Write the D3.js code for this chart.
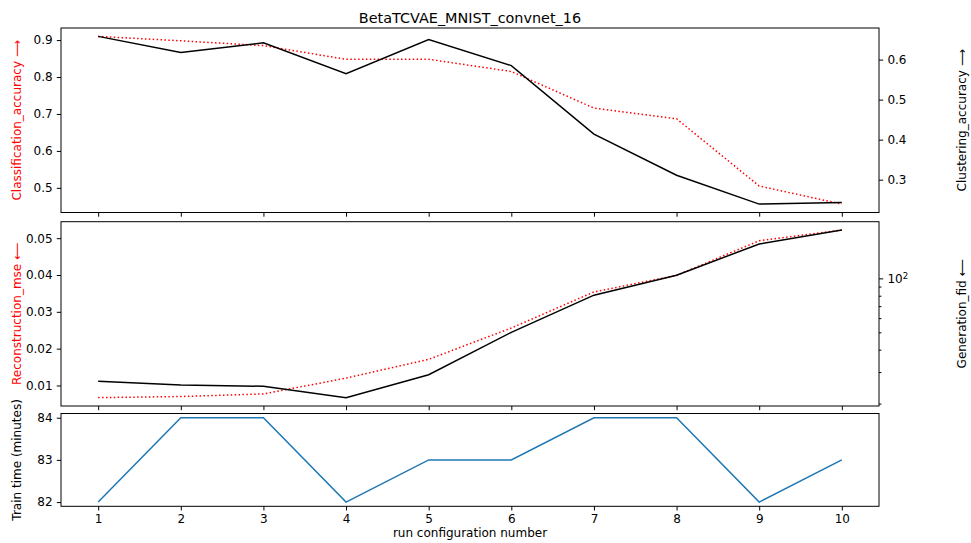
<!DOCTYPE html>
<html>
<head>
<meta charset="utf-8">
<script src="https://cdn.jsdelivr.net/npm/d3@7"></script>
<style>
  html, body { margin: 0; padding: 0; background: #fff; }
  svg { display: block; font-family: "DejaVu Sans", sans-serif; }
  .axis path { display: none; }
  .axis line { stroke: #000; stroke-width: 1; }
  .axis text { font-size: 12px; fill: #000; font-family: "DejaVu Sans", sans-serif; }
</style>
</head>
<body>
<script>
const chartTitle = "BetaTCVAE_MNIST_convnet_16";
const runs = [1, 2, 3, 4, 5, 6, 7, 8, 9, 10];
const classificationAccuracy = [0.910, 0.898, 0.885, 0.848, 0.848, 0.815, 0.716, 0.687, 0.505, 0.456];
const clusteringAccuracy = [0.658, 0.618, 0.642, 0.565, 0.650, 0.585, 0.414, 0.311, 0.239, 0.243];
const reconstructionMse = [0.0067, 0.0070, 0.0077, 0.0120, 0.0171, 0.0256, 0.0354, 0.0399, 0.0493, 0.0522];
const generationFid = [26.7, 25.4, 25.0, 21.6, 29.0, 50.0, 80.6, 104.2, 155.5, 186.0];
const trainTime = [82, 84, 84, 82, 83, 83, 84, 84, 82, 83];

const ticksClassification = [0.5, 0.6, 0.7, 0.8, 0.9];
const ticksClustering = [0.3, 0.4, 0.5, 0.6];
const ticksMse = [0.01, 0.02, 0.03, 0.04, 0.05];
const ticksFidMajor = [100];
const ticksFidMinor = [20, 30, 40, 50, 60, 70, 80, 90];
const ticksTrain = [82, 83, 84];

const labelClassification = "Classification_accuracy \u27F6";
const labelClustering = "Clustering_accuracy \u27F6";
const labelMse = "Reconstruction_mse \u27F5";
const labelFid = "Generation_fid \u27F5";
const labelTrain = "Train time (minutes)";
const labelX = "run configuration number";

const W = 971, H = 543;
const left = 61, right = 879;
const panels = [
  { top: 28, bottom: 212.5 },
  { top: 221.7, bottom: 406 },
  { top: 413.5, bottom: 506.3 }
];
const TICK = 4.2, PAD = 4.2, MINOR = 2.4;

const svg = d3.select("body").append("svg").attr("width", W).attr("height", H);

function padLin(arr) {
  const [a, b] = d3.extent(arr); const m = (b - a) * 0.05; return [a - m, b + m];
}
function padLog(arr) {
  const [a, b] = d3.extent(arr).map(Math.log10); const m = (b - a) * 0.05;
  return [Math.pow(10, a - m), Math.pow(10, b + m)];
}

const x = d3.scaleLinear().domain(padLin(runs)).range([left, right]);

const yCls = d3.scaleLinear().domain(padLin(classificationAccuracy)).range([panels[0].bottom, panels[0].top]);
const yClu = d3.scaleLinear().domain(padLin(clusteringAccuracy)).range([panels[0].bottom, panels[0].top]);
const yMse = d3.scaleLinear().domain(padLin(reconstructionMse)).range([panels[1].bottom, panels[1].top]);
const yFid = d3.scaleLog().domain(padLog(generationFid)).range([panels[1].bottom, panels[1].top]);
const yTrain = d3.scaleLinear().domain(padLin(trainTime)).range([panels[2].bottom, panels[2].top]);

function lineGen(ys, vals) {
  return d3.line().x((d, i) => x(runs[i])).y((d, i) => ys(vals[i]))(vals);
}

// x ticks on every panel
panels.forEach((p, i) => {
  svg.append("g").attr("class", "axis").attr("transform", `translate(0,${p.bottom})`)
    .call(d3.axisBottom(x).tickValues(runs).tickSize(TICK).tickPadding(PAD).tickFormat(i === 2 ? d3.format("d") : ""));
});

// Panel 1
const a1 = svg.append("g").attr("class", "axis").attr("transform", `translate(${left},0)`)
  .call(d3.axisLeft(yCls).tickValues(ticksClassification).tickSize(TICK).tickPadding(PAD).tickFormat(d3.format(".1f")));
a1.selectAll("text").attr("fill", "red");
svg.append("g").attr("class", "axis").attr("transform", `translate(${right},0)`)
  .call(d3.axisRight(yClu).tickValues(ticksClustering).tickSize(TICK).tickPadding(PAD).tickFormat(d3.format(".1f")));

svg.append("path").attr("d", lineGen(yCls, classificationAccuracy))
  .attr("fill", "none").attr("stroke", "red").attr("stroke-width", 1.5).attr("stroke-dasharray", "1.5,2.4");
svg.append("path").attr("d", lineGen(yClu, clusteringAccuracy))
  .attr("fill", "none").attr("stroke", "#000").attr("stroke-width", 1.5);

// Panel 2
const a2 = svg.append("g").attr("class", "axis").attr("transform", `translate(${left},0)`)
  .call(d3.axisLeft(yMse).tickValues(ticksMse).tickSize(TICK).tickPadding(PAD).tickFormat(d3.format(".2f")));
a2.selectAll("text").attr("fill", "red");
const fidDom = yFid.domain();
const a2r = svg.append("g").attr("class", "axis").attr("transform", `translate(${right},0)`)
  .call(d3.axisRight(yFid).tickValues(ticksFidMajor).tickSize(TICK).tickPadding(PAD).tickFormat(""));
a2r.selectAll(".tick").each(function (d) {
  const t = d3.select(this).select("text");
  t.text(null);
  t.append("tspan").text("10");
  t.append("tspan").attr("dy", "-0.45em").attr("font-size", "8.5px").text(String(Math.round(Math.log10(d))));
});
svg.append("g").attr("class", "axis").attr("transform", `translate(${right},0)`)
  .call(d3.axisRight(yFid).tickValues(ticksFidMinor.filter(v => v >= fidDom[0] && v <= fidDom[1])).tickSize(MINOR).tickFormat(""));

svg.append("path").attr("d", lineGen(yMse, reconstructionMse))
  .attr("fill", "none").attr("stroke", "red").attr("stroke-width", 1.5).attr("stroke-dasharray", "1.5,2.4");
svg.append("path").attr("d", lineGen(yFid, generationFid))
  .attr("fill", "none").attr("stroke", "#000").attr("stroke-width", 1.5);

// Panel 3
svg.append("g").attr("class", "axis").attr("transform", `translate(${left},0)`)
  .call(d3.axisLeft(yTrain).tickValues(ticksTrain).tickSize(TICK).tickPadding(PAD).tickFormat(d3.format("d")));
svg.append("path").attr("d", lineGen(yTrain, trainTime))
  .attr("fill", "none").attr("stroke", "#1f77b4").attr("stroke-width", 1.5);

// frames
panels.forEach(p => {
  svg.append("rect").attr("x", left).attr("y", p.top).attr("width", right - left).attr("height", p.bottom - p.top)
    .attr("fill", "none").attr("stroke", "#000").attr("stroke-width", 1);
});

// labels
function vlabel(txt, cx, cy, color) {
  svg.append("text").attr("transform", `translate(${cx},${cy}) rotate(-90)`)
    .attr("text-anchor", "middle").attr("dominant-baseline", "central")
    .attr("font-size", "12px").attr("fill", color).text(txt);
}
vlabel(labelClassification, 17, (panels[0].top + panels[0].bottom) / 2, "red");
vlabel(labelClustering, 962, (panels[0].top + panels[0].bottom) / 2, "#000");
vlabel(labelMse, 17, (panels[1].top + panels[1].bottom) / 2, "red");
vlabel(labelFid, 962, (panels[1].top + panels[1].bottom) / 2, "#000");
vlabel(labelTrain, 17, (panels[2].top + panels[2].bottom) / 2, "#000");

svg.append("text").attr("x", (left + right) / 2).attr("y", 537).attr("text-anchor", "middle")
  .attr("font-size", "12px").text(labelX);
svg.append("text").attr("x", (left + right) / 2).attr("y", 23).attr("text-anchor", "middle")
  .attr("font-size", "14.4px").text(chartTitle);
</script>
</body>
</html>
